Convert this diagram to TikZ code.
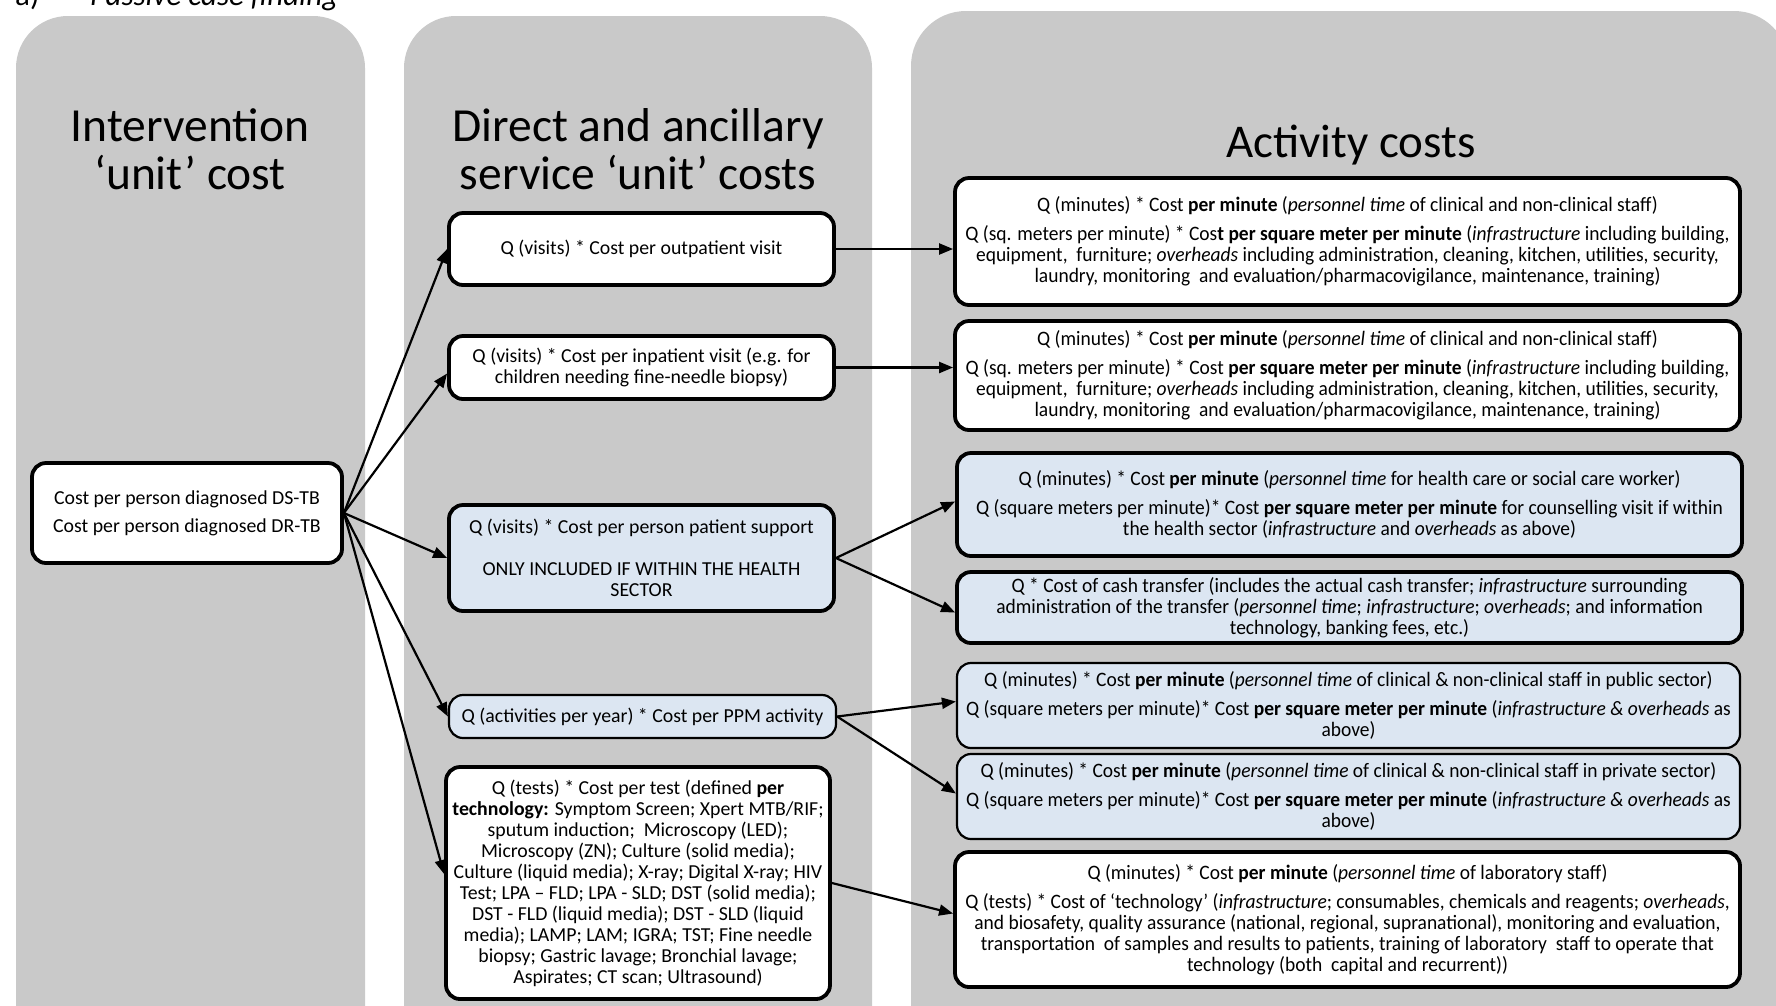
\documentclass[tikz,border=0pt]{standalone}
\usepackage{fontspec}
\setmainfont{Carlito}
\newfontfamily\narrowfont[FakeStretch=0.95]{Carlito}
\usetikzlibrary{arrows.meta}
\definecolor{panelgray}{HTML}{C9C9C9}
\definecolor{lblue}{HTML}{DCE6F2}
\begin{document}
\begin{tikzpicture}[x=1pt,y=-1pt,
  box/.style={draw=black, line width=3.8pt, rounded corners=14pt, fill=white, align=center, inner sep=0pt, font=\fontsize{19.8}{21}\selectfont},
  thinbox/.style={box, line width=2.2pt},
  bluefill/.style={fill=lblue},
  colthree/.style={font=\narrowfont\fontsize{20.5}{21}\selectfont},
  arr/.style={-{Triangle[length=14pt,width=11pt]}, line width=2.2pt},
  ttl/.style={align=center, font=\fontsize{47.5}{48}\selectfont, inner sep=0pt}
]
\clip (0,0) rectangle (1776,1005);
\fill[white] (0,0) rectangle (1776,1005);
% panels
\fill[panelgray, rounded corners=52pt] (16,16) rectangle (365,1060);
\fill[panelgray, rounded corners=52pt] (404,16) rectangle (872,1060);
\fill[panelgray, rounded corners=55pt] (911,11) rectangle (1789,1060);
% heading (cut off at the top edge, as in the reference)
\node[anchor=base west, inner sep=0pt, font=\fontsize{31}{34}\selectfont] (lab) at (15,5) {a)};
\node[anchor=base west, inner sep=0pt, font=\fontsize{31}{34}\selectfont\itshape] (lab2) at (90,5) {Passive case finding};
% titles
\node[ttl] (t1) at (190,149) {Intervention\\‘unit’ cost};
\node[ttl] (t2) at (638,149) {Direct and ancillary\\service ‘unit’ costs};
\node[ttl, font=\fontsize{47}{48}\selectfont] (t3) at (1351,145) {Activity costs};
% column 1
\node[box, minimum width=310pt, minimum height=100pt] (a) at (187,513)
  {Cost per person diagnosed DS-TB\\[7pt]Cost per person diagnosed DR-TB};
% column 2
\node[box, minimum width=385pt, minimum height=72pt] (b1) at (641.5,249)
  {Q (visits) * Cost per outpatient visit};
\node[box, minimum width=385pt, minimum height=63pt] (b2) at (641.5,367.5)
  {Q (visits) * Cost per inpatient visit (e.g. for\\children needing fine-needle biopsy)};
\node[box, bluefill, minimum width=385pt, minimum height=106pt] (b3) at (641.5,558)
  {Q (visits) * Cost per person patient support\\[21pt]ONLY INCLUDED IF WITHIN THE HEALTH\\SECTOR};
\node[thinbox, bluefill, minimum width=387pt, minimum height=43pt] (b4) at (642.5,716.5)
  {Q (activities per year) * Cost per PPM activity};
\node[box, minimum width=384pt, minimum height=232pt] (b5) at (638,883)
  {Q (tests) * Cost per test (defined \textbf{per}\\
   \textbf{technology:} Symptom Screen; Xpert MTB/RIF;\\
   sputum induction;\ \ Microscopy (LED);\\
   Microscopy (ZN); Culture (solid media);\\
   Culture (liquid media); X-ray; Digital X-ray; HIV\\
   Test; LPA – FLD; LPA - SLD; DST (solid media);\\
   DST - FLD (liquid media); DST - SLD (liquid\\
   media); LAMP; LAM; IGRA; TST; Fine needle\\
   biopsy; Gastric lavage; Bronchial lavage;\\
   Aspirates; CT scan; Ultrasound)};
% column 3
\node[box, colthree, minimum width=785pt, minimum height=127pt] (c1) at (1347.5,241.5)
  {Q (minutes) * Cost \textbf{per minute} (\textit{personnel time} of clinical and non-clinical staff)\\[8pt]
   Q (sq. meters per minute) * Cos\textbf{t per square meter per minute} (\textit{infrastructure} including building,\\
   equipment,\ \ furniture; \textit{overheads} including administration, cleaning, kitchen, utilities, security,\\
   laundry, monitoring\ \ and evaluation/pharmacovigilance, maintenance, training)};
\node[box, colthree, minimum width=785pt, minimum height=109pt] (c2) at (1347.5,375.5)
  {Q (minutes) * Cost \textbf{per minute} (\textit{personnel time} of clinical and non-clinical staff)\\[8pt]
   Q (sq. meters per minute) * Cost \textbf{per square meter per minute} (\textit{infrastructure} including building,\\
   equipment,\ \ furniture; \textit{overheads} including administration, cleaning, kitchen, utilities, security,\\
   laundry, monitoring\ \ and evaluation/pharmacovigilance, maintenance, training)};
\node[box, bluefill, colthree, minimum width=785pt, minimum height=103pt] (c3) at (1349.5,504.5)
  {Q (minutes) * Cost \textbf{per minute} (\textit{personnel time} for health care or social care worker)\\[8pt]
   Q (square meters per minute)* Cost \textbf{per square meter per minute} for counselling visit if within\\
   the health sector (\textit{infrastructure} and \textit{overheads} as above)};
\node[box, bluefill, colthree, minimum width=785pt, minimum height=71pt] (c4) at (1349.5,607.5)
  {Q * Cost of cash transfer (includes the actual cash transfer; \textit{infrastructure} surrounding\\
   administration of the transfer (\textit{personnel time}; \textit{infrastructure}; \textit{overheads}; and information\\
   technology, banking fees, etc.)};
\node[thinbox, bluefill, colthree, minimum width=783pt, minimum height=85pt] (c5) at (1348.5,705.5)
  {Q (minutes) * Cost \textbf{per minute} (\textit{personnel time} of clinical \& non-clinical staff in public sector)\\[8pt]
   Q (square meters per minute)* Cost \textbf{per square meter per minute} (\textit{infrastructure \& overheads} as\\
   above)};
\node[thinbox, bluefill, colthree, minimum width=783pt, minimum height=85pt] (c6) at (1348.5,796.5)
  {Q (minutes) * Cost \textbf{per minute} (\textit{personnel time} of clinical \& non-clinical staff in private sector)\\[8pt]
   Q (square meters per minute)* Cost \textbf{per square meter per minute} (\textit{infrastructure \& overheads} as\\
   above)};
\node[box, colthree, minimum width=785pt, minimum height=135pt] (c7) at (1347.5,919.5)
  {Q (minutes) * Cost \textbf{per minute} (\textit{personnel time} of laboratory staff)\\[8pt]
   Q (tests) * Cost of ‘technology’ (\textit{infrastructure}; consumables, chemicals and reagents; \textit{overheads},\\
   and biosafety, quality assurance (national, regional, supranational), monitoring and evaluation,\\
   transportation\ \ of samples and results to patients, training of laboratory\ \ staff to operate that\\
   technology (both\ \ capital and recurrent))};
% connectors
\draw[arr] (a.east) -- (b1.west);
\draw[arr] (a.east) -- ([yshift=-6pt]b2.west);
\draw[arr] (a.east) -- (b3.west);
\draw[arr] (a.east) -- (b4.west);
\draw[arr] (a.east) -- ([yshift=9pt]b5.west);
\draw[arr] (b1.east) -- (b1.east -| c1.west);
\draw[arr] (b2.east) -- (b2.east -| c2.west);
\draw[arr] (b3.east) -- ([yshift=3pt]c3.west);
\draw[arr] (b3.east) -- ([yshift=-5pt]c4.west);
\draw[arr] (b4.east) -- ([yshift=4pt]c5.west);
\draw[arr] (b4.east) -- ([yshift=3pt]c6.west);
\draw[arr] (b5.east) -- ([yshift=6pt]c7.west);
\end{tikzpicture}
\end{document}
